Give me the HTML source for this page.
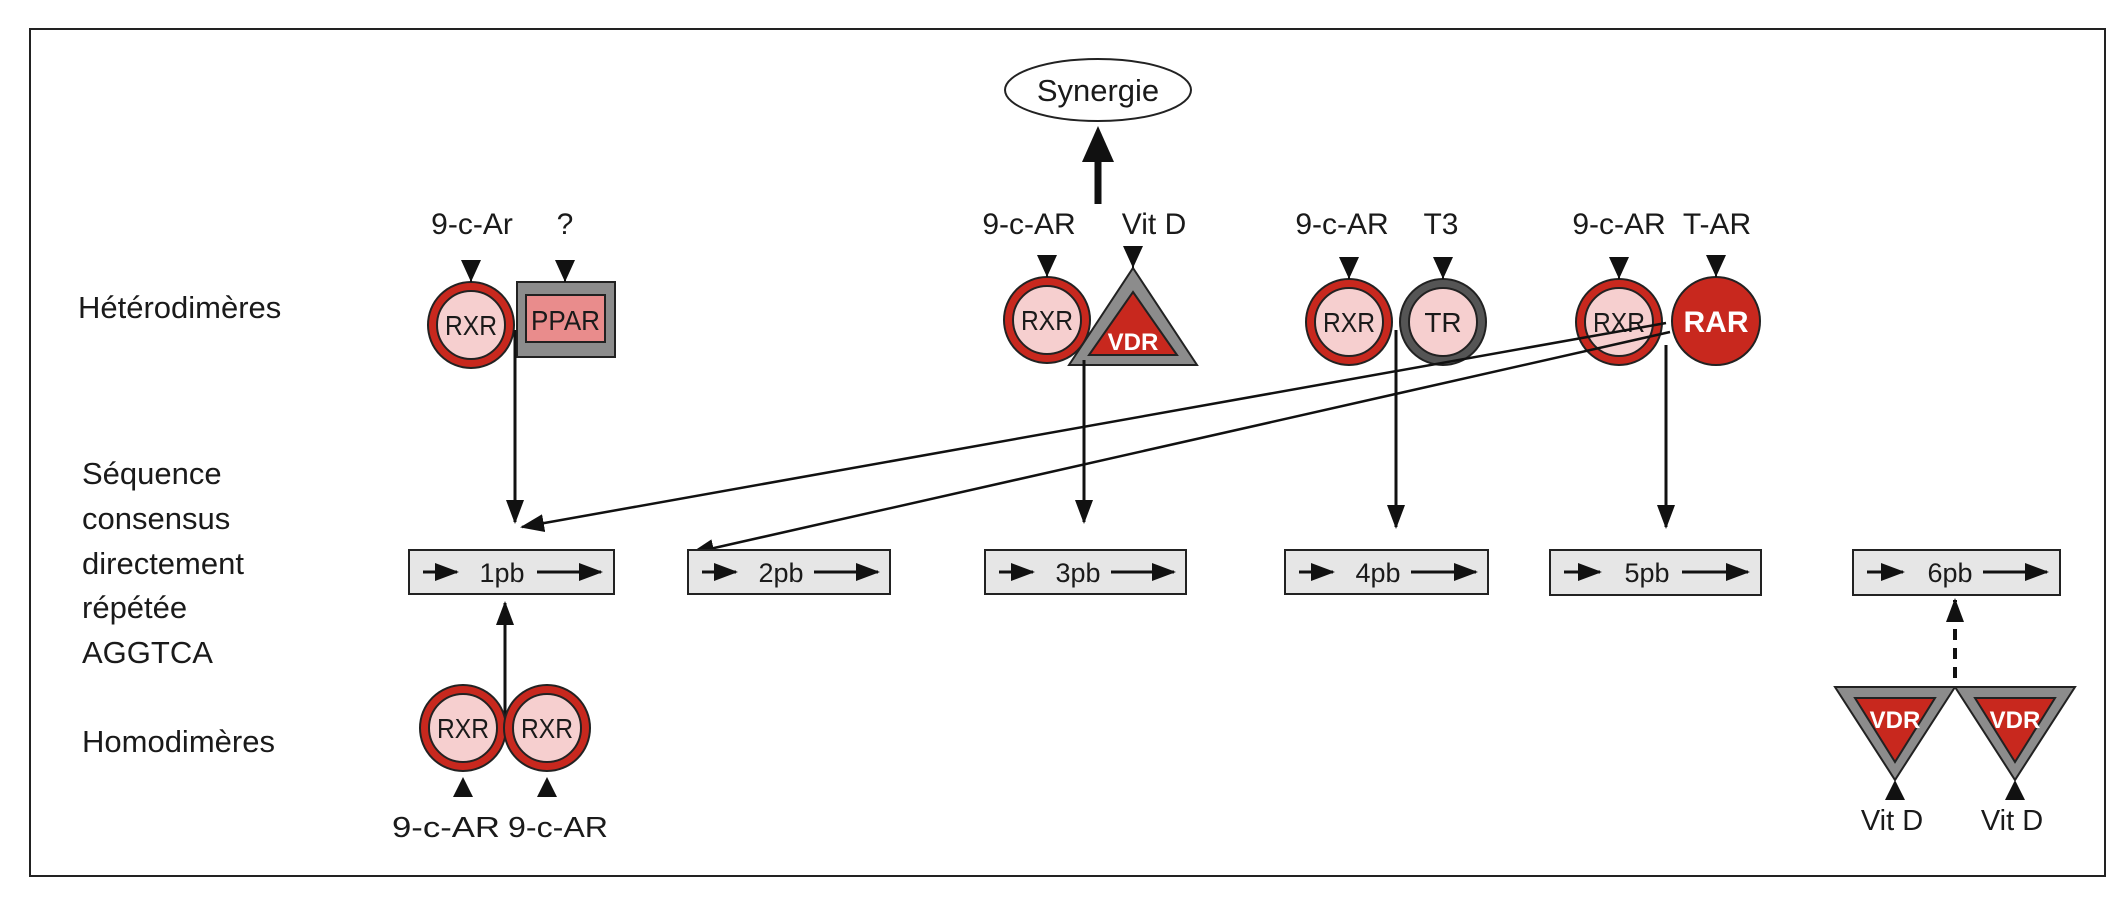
<!DOCTYPE html>
<html><head><meta charset="utf-8"><style>
html,body{margin:0;padding:0;background:#fff;}
svg{display:block;}
text{font-family:"Liberation Sans",sans-serif;fill:#1a1a1a;}
</style></head><body>
<svg width="2125" height="908" viewBox="0 0 2125 908" xmlns="http://www.w3.org/2000/svg">
<defs>
<marker id="ahb" markerWidth="24" markerHeight="24" refX="22" refY="12" orient="auto" markerUnits="userSpaceOnUse" viewBox="0 0 24 24"><path d="M0,3 L24,12 L0,21 z" fill="#111"/></marker>
<g id="rxr"><circle r="43" fill="#c8281e" stroke="#222" stroke-width="2"/><circle r="34" fill="#f6cfcf" stroke="#222" stroke-width="2"/><text x="-26" y="10" font-size="28" textLength="52" lengthAdjust="spacingAndGlyphs">RXR</text></g>
<g id="tri"><path d="M0,-10 L0,0" stroke="#111" stroke-width="2"/><path d="M-10,-22 L10,-22 L0,0 z" fill="#111"/></g>
<g id="triu"><path d="M-10,20 L10,20 L0,0 z" fill="#111"/></g>
</defs>
<rect width="2125" height="908" fill="#fff"/>
<rect x="30" y="29" width="2075" height="847" fill="#fff" stroke="#222" stroke-width="2"/>

<text x="78" y="318" font-size="31">Hétérodimères</text>
<text x="82" y="484" font-size="31">Séquence</text>
<text x="82" y="529" font-size="31">consensus</text>
<text x="82" y="574" font-size="31">directement</text>
<text x="82" y="618" font-size="31">répétée</text>
<text x="82" y="663" font-size="31">AGGTCA</text>
<text x="82" y="752" font-size="31">Homodimères</text>

<ellipse cx="1098" cy="90" rx="93" ry="31" fill="#fff" stroke="#222" stroke-width="2"/>
<text x="1098" y="101" text-anchor="middle" font-size="31">Synergie</text>
<line x1="1098" y1="204" x2="1098" y2="155" stroke="#111" stroke-width="7"/>
<path d="M1082,162 L1114,162 L1098,126 z" fill="#111"/>

<g font-size="30" text-anchor="middle">
<text x="472" y="234">9-c-Ar</text><text x="565" y="234">?</text>
<text x="1029" y="234">9-c-AR</text><text x="1154" y="234">Vit D</text>
<text x="1342" y="234">9-c-AR</text><text x="1441" y="234">T3</text>
<text x="1619" y="234">9-c-AR</text><text x="1717" y="234">T-AR</text>
</g>

<rect x="517" y="282" width="98" height="75" fill="#8c8c8c" stroke="#222" stroke-width="2"/>
<rect x="526" y="295" width="79" height="47" fill="#e98c8c" stroke="#222" stroke-width="2"/>
<text x="531" y="330" font-size="28" textLength="69" lengthAdjust="spacingAndGlyphs">PPAR</text>
<use href="#rxr" x="471" y="325"/>
<use href="#tri" x="471" y="282"/>
<use href="#tri" x="565" y="282"/>
<line x1="515" y1="330" x2="515" y2="522" stroke="#111" stroke-width="3" marker-end="url(#ahb)"/>

<path d="M1133,268 L1197,365 L1069,365 z" fill="#8c8c8c" stroke="#222" stroke-width="2"/>
<path d="M1133,292 L1177,355 L1089,355 z" fill="#c8281e" stroke="#222" stroke-width="2"/>
<text x="1133" y="350" text-anchor="middle" font-size="24" font-weight="bold" style="fill:#fff">VDR</text>
<use href="#rxr" x="1047" y="320"/>
<use href="#tri" x="1047" y="277"/>
<use href="#tri" x="1133" y="268"/>
<line x1="1084" y1="360" x2="1084" y2="522" stroke="#111" stroke-width="3" marker-end="url(#ahb)"/>

<circle cx="1443" cy="322" r="43" fill="#555" stroke="#222" stroke-width="2"/>
<circle cx="1443" cy="322" r="34" fill="#f6cfcf" stroke="#222" stroke-width="2"/>
<text x="1443" y="332" text-anchor="middle" font-size="28">TR</text>
<use href="#rxr" x="1349" y="322"/>
<use href="#tri" x="1349" y="279"/>
<use href="#tri" x="1443" y="279"/>
<line x1="1396" y1="330" x2="1396" y2="527" stroke="#111" stroke-width="3" marker-end="url(#ahb)"/>

<use href="#rxr" x="1619" y="322"/>
<circle cx="1716" cy="321" r="44" fill="#c8281e" stroke="#222" stroke-width="2"/>
<text x="1716" y="332" text-anchor="middle" font-size="30" font-weight="bold" style="fill:#fff">RAR</text>
<use href="#tri" x="1619" y="279"/>
<use href="#tri" x="1716" y="277"/>
<line x1="1666" y1="345" x2="1666" y2="527" stroke="#111" stroke-width="3" marker-end="url(#ahb)"/>
<line x1="1666" y1="323" x2="522" y2="527" stroke="#111" stroke-width="2.5" marker-end="url(#ahb)"/>
<line x1="1670" y1="332" x2="692" y2="553" stroke="#111" stroke-width="2.5" marker-end="url(#ahb)"/>

<g font-size="27" text-anchor="middle">
<g transform="translate(409,550)"><rect width="205" height="44" fill="#e6e6e6" stroke="#222" stroke-width="2"/><line x1="14" y1="22" x2="48" y2="22" stroke="#111" stroke-width="3" marker-end="url(#ahb)"/><text x="93" y="32">1pb</text><line x1="128" y1="22" x2="192" y2="22" stroke="#111" stroke-width="3" marker-end="url(#ahb)"/></g>
<g transform="translate(688,550)"><rect width="202" height="44" fill="#e6e6e6" stroke="#222" stroke-width="2"/><line x1="14" y1="22" x2="48" y2="22" stroke="#111" stroke-width="3" marker-end="url(#ahb)"/><text x="93" y="32">2pb</text><line x1="126" y1="22" x2="190" y2="22" stroke="#111" stroke-width="3" marker-end="url(#ahb)"/></g>
<g transform="translate(985,550)"><rect width="201" height="44" fill="#e6e6e6" stroke="#222" stroke-width="2"/><line x1="14" y1="22" x2="48" y2="22" stroke="#111" stroke-width="3" marker-end="url(#ahb)"/><text x="93" y="32">3pb</text><line x1="126" y1="22" x2="189" y2="22" stroke="#111" stroke-width="3" marker-end="url(#ahb)"/></g>
<g transform="translate(1285,550)"><rect width="203" height="44" fill="#e6e6e6" stroke="#222" stroke-width="2"/><line x1="14" y1="22" x2="48" y2="22" stroke="#111" stroke-width="3" marker-end="url(#ahb)"/><text x="93" y="32">4pb</text><line x1="126" y1="22" x2="191" y2="22" stroke="#111" stroke-width="3" marker-end="url(#ahb)"/></g>
<g transform="translate(1550,550)"><rect width="211" height="45" fill="#e6e6e6" stroke="#222" stroke-width="2"/><line x1="14" y1="22" x2="50" y2="22" stroke="#111" stroke-width="3" marker-end="url(#ahb)"/><text x="97" y="32">5pb</text><line x1="132" y1="22" x2="198" y2="22" stroke="#111" stroke-width="3" marker-end="url(#ahb)"/></g>
<g transform="translate(1853,550)"><rect width="207" height="45" fill="#e6e6e6" stroke="#222" stroke-width="2"/><line x1="14" y1="22" x2="50" y2="22" stroke="#111" stroke-width="3" marker-end="url(#ahb)"/><text x="97" y="32">6pb</text><line x1="130" y1="22" x2="194" y2="22" stroke="#111" stroke-width="3" marker-end="url(#ahb)"/></g>
</g>

<line x1="505" y1="720" x2="505" y2="603" stroke="#111" stroke-width="3" marker-end="url(#ahb)"/>
<use href="#rxr" x="463" y="728"/>
<use href="#rxr" x="547" y="728"/>
<use href="#triu" x="463" y="777"/>
<use href="#triu" x="547" y="777"/>
<text x="446" y="837" text-anchor="middle" font-size="29" textLength="108" lengthAdjust="spacingAndGlyphs">9-c-AR</text>
<text x="558" y="837" text-anchor="middle" font-size="29" textLength="100" lengthAdjust="spacingAndGlyphs">9-c-AR</text>

<line x1="1955" y1="678" x2="1955" y2="600" stroke="#111" stroke-width="4" stroke-dasharray="11,8" marker-end="url(#ahb)"/>
<path d="M1835,687 L1955,687 L1895,780 z" fill="#8c8c8c" stroke="#222" stroke-width="2"/>
<path d="M1855,698 L1935,698 L1895,762 z" fill="#c8281e" stroke="#222" stroke-width="2"/>
<text x="1895" y="728" text-anchor="middle" font-size="24" font-weight="bold" style="fill:#fff">VDR</text>
<path d="M1955,687 L2075,687 L2015,780 z" fill="#8c8c8c" stroke="#222" stroke-width="2"/>
<path d="M1975,698 L2055,698 L2015,762 z" fill="#c8281e" stroke="#222" stroke-width="2"/>
<text x="2015" y="728" text-anchor="middle" font-size="24" font-weight="bold" style="fill:#fff">VDR</text>
<use href="#triu" x="1895" y="780"/>
<use href="#triu" x="2015" y="780"/>
<text x="1892" y="830" text-anchor="middle" font-size="29">Vit D</text>
<text x="2012" y="830" text-anchor="middle" font-size="29">Vit D</text>
</svg>
</body></html>
